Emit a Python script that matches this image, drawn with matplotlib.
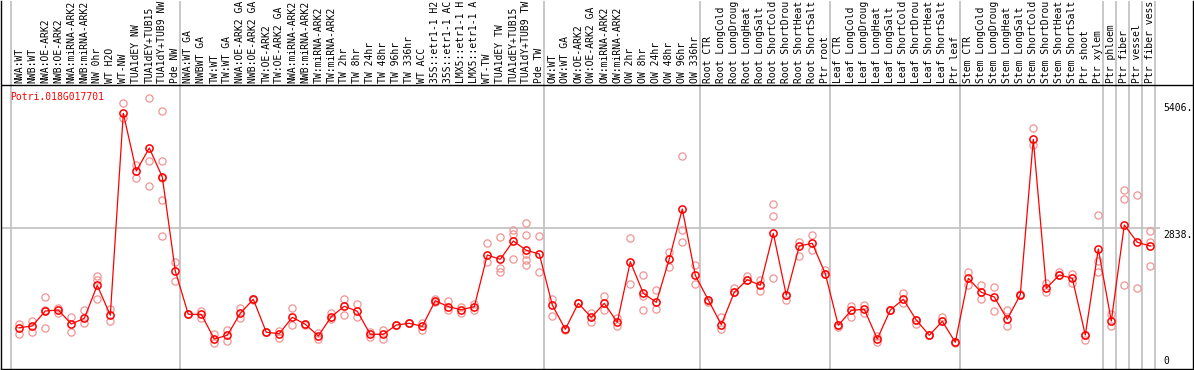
import matplotlib
matplotlib.use("Agg")
import matplotlib.pyplot as plt
import numpy as np

gene = "Potri.018G017701"

labels = [
    "NWA:WT", "NWB:WT", "NWA:OE-ARK2", "NWB:OE-ARK2", "NWA:miRNA-ARK2", "NWB:miRNA-ARK2",
    "NW 0hr", "WT H2O", "WT-NW", "TUA1dEY NW", "TUA1dEY+TUB15", "TUA1dY+TUB9 NW", "Pde NW",
    "NWA:WT GA", "NWBWT GA", "TW:WT", "TW:WT GA", "NWA:OE-ARK2 GA", "NWB:OE-ARK2 GA",
    "TW:OE-ARK2", "TW:OE-ARK2 GA", "NWA:miRNA-ARK2", "NWB:miRNA-ARK2", "TW:miRNA-ARK2",
    "TW:miRNA-ARK2", "TW 2hr", "TW 8hr", "TW 24hr", "TW 48hr", "TW 96hr", "TW 336hr",
    "WT ACC", "35S::etr1-1 H2", "35S::etr1-1 AC", "LMX5::etr1-1 H", "LMX5::etr1-1 A",
    "WT-TW", "TUA1dEY TW", "TUA1dEY+TUB15", "TUA1dY+TUB9 TW", "Pde TW",
    "OW:WT", "OW:WT GA", "OW:OE-ARK2", "OW:OE-ARK2 GA", "OW:miRNA-ARK2", "OW:miRNA-ARK2",
    "OW 2hr", "OW 8hr", "OW 24hr", "OW 48hr", "OW 96hr", "OW 336hr",
    "Root CTR", "Root LongCold", "Root LongDroug", "Root LongHeat", "Root LongSalt",
    "Root ShortCold", "Root ShortDrou", "Root ShortHeat", "Root ShortSalt", "Ptr root",
    "Leaf CTR", "Leaf LongCold", "Leaf LongDroug", "Leaf LongHeat", "Leaf LongSalt",
    "Leaf ShortCold", "Leaf ShortDrou", "Leaf ShortHeat", "Leaf ShortSalt", "Ptr leaf",
    "Stem CTR", "Stem LongCold", "Stem LongDroug", "Stem LongHeat", "Stem LongSalt",
    "Stem ShortCold", "Stem ShortDrou", "Stem ShortHeat", "Stem ShortSalt", "Ptr shoot",
    "Ptr xylem", "Ptr phloem", "Ptr fiber", "Ptr vessel", "Ptr fiber vess",
]

group_sizes = [13, 28, 12, 10, 10, 11, 1, 1, 1, 1]

means = [
    833, 867, 1170, 1190, 908, 1023, 1688, 1083, 5157, 3994, 4458, 3873, 1977,
    1103, 1103, 605, 680, 1123, 1406, 740, 712, 1043, 902, 666, 1055, 1265, 1164,
    700, 700, 887, 922, 861, 1378, 1257, 1196, 1257, 2299, 2213, 2582, 2394, 2320,
    1291, 801, 1325, 1043, 1325, 942, 2164, 1527, 1345, 2219, 3227, 1890,
    1392, 894, 1547, 1801, 1688, 2737, 1487, 2481, 2535, 1922,
    881, 1184, 1204, 605, 1190, 1406, 988, 680, 962, 539,
    1829, 1547, 1452, 1002, 1499, 4633, 1628, 1896, 1829, 686, 2420,
    968, 2904, 2556, 2481,
]

replicates = [
    [902, 700], [968, 752], [1446, 833, 1190], [1236, 1123], [1043, 740], [1190, 922],
    [1876, 1795, 1406], [1210, 974], [5359, 5057], [4115, 3858], [5466, 4195, 3685],
    [5198, 4195, 3409, 2683, 3846], [2152, 1781],
    [1103, 1110], [1170, 1023], [700, 530], [787, 571], [1224, 1023], [1390, 1420],
    [740, 745], [760, 631], [1224, 881], [902, 880], [732, 599], [1136, 1000],
    [1406, 1083], [1311, 1049], [752, 645], [793, 611], [887, 890], [922, 925],
    [787, 928], [1406, 1350], [1378, 1190], [1257, 1123], [1317, 1190],
    [2547, 2164], [2662, 2031, 1950], [2810, 2717, 2213],
    [2939, 2697, 2313, 2199, 2104], [2683, 1950],
    [1406, 1069], [801, 790], [1325, 1330], [1136, 950], [1472, 1190], [1023, 873],
    [2636, 1708], [1890, 1472, 1184], [1593, 1210], [2354, 2063], [4296, 2804, 2556],
    [2098, 1708],
    [1345, 1392], [1043, 813], [1640, 1547], [1876, 1801], [1795, 1567],
    [3322, 3080, 1829], [1392, 1487], [2568, 2285], [2697, 2394], [1991, 1922],
    [841, 881], [1271, 1055], [1291, 1123], [672, 539], [1190, 1195],
    [1539, 1325], [902, 988], [680, 685], [1049, 962], [539, 520],
    [1963, 1694], [1694, 1412], [1648, 1170], [1190, 873], [1499, 1505],
    [4855, 4518], [1729, 1559], [1950, 1896], [1916, 1729], [591, 686],
    [3100, 2184, 1950], [1109, 867], [3610, 3423, 1694], [3504, 1628],
    [2783, 2568, 2078],
]

axis_ticks = [5406, 2838, 0]
axis_tick_labels = ["5406.", "2838.", "0"]

# ---------------- drawing ----------------
W, H = 1194, 370
fig = plt.figure(figsize=(W / 100, H / 100), dpi=100)
ax = fig.add_axes([1 / W, 1 / H, (W - 2) / W, (H - 2) / H])

X0, DX = 19.3, 13.0          # pixel of first category, pixel spacing
UPP = 20.17                  # data units per pixel vertically
ax.set_xlim((1 - X0) / DX, (W - 1 - X0) / DX)
ax.set_ylim(0, (H - 2) * UPP)

def ypix(p):
    return (H - 1 - p) * UPP

mono = "DejaVu Sans Mono"
red = "#ff0000"
rep_col = "#f09494"
grid_col = "#c4c4c4"

x = np.arange(len(labels))

# group separators
bounds = np.concatenate([[-1], np.cumsum(group_sizes) - 1]) + 0.38
for b in bounds:
    ax.axvline(b, color=grid_col, lw=1.3, zorder=1)

# mid gridline
ax.hlines(axis_ticks[1], ax.get_xlim()[0], (1160 - X0) / DX, color=grid_col, lw=1.3, zorder=1)

# header separator
ax.axhline(ypix(85), color="black", lw=1.0, zorder=2)

# replicates
for xi, reps in zip(x, replicates):
    ax.plot([xi] * len(reps), reps, linestyle="none", marker="o", ms=5.2,
            mfc="none", mec=rep_col, mew=0.9, zorder=3)

# mean line + markers
ax.plot(x, means, color=red, lw=0.9, zorder=4)
ax.plot(x, means, linestyle="none", marker="o", ms=5.2, mfc="none",
        mec=red, mew=1.1, zorder=5)

# category labels
for xi, lab in zip(x, labels):
    ax.text(xi, ypix(83), lab, rotation=90, ha="center", va="bottom",
            fontsize=7, family=mono, color="black")

# gene title
ax.text((10 - X0) / DX, ypix(97), gene, ha="left", va="center",
        fontsize=7, family=mono, color=red)

# right-side value labels
xr = (1163 - X0) / DX
for v, t in zip(axis_ticks, axis_tick_labels):
    if v == 0:
        ax.text(xr, ypix(366), t, ha="left", va="bottom", fontsize=7, family=mono)
    else:
        ax.text(xr, v - 2 * UPP, t, ha="left", va="top", fontsize=7, family=mono)

ax.set_xticks([])
ax.set_yticks([])
ax.spines["top"].set_visible(False)
for s in ["left", "right", "bottom"]:
    ax.spines[s].set_color("black")
    ax.spines[s].set_linewidth(1.0)

fig.savefig("out.png", dpi=100)
